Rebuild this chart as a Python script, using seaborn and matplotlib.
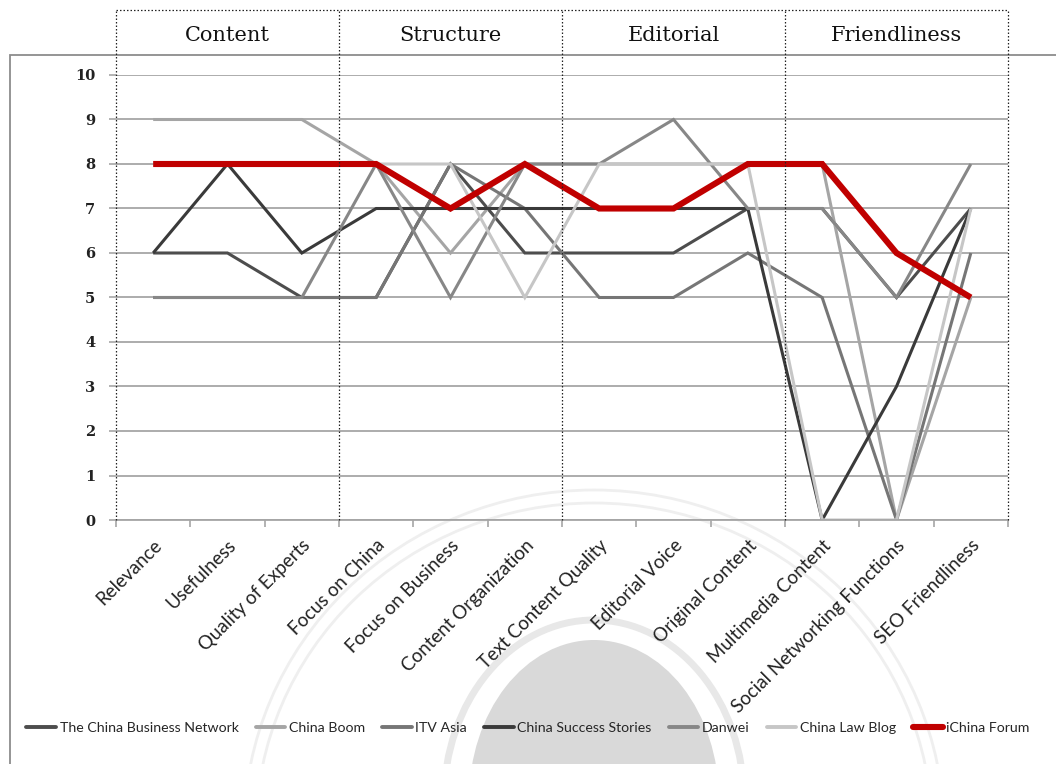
import numpy as np
import pandas as pd
import matplotlib
matplotlib.use("Agg")
import matplotlib.pyplot as plt
import seaborn as sns
from matplotlib.lines import Line2D
from matplotlib.patches import Rectangle, Ellipse
import matplotlib.transforms as mtransforms

# ---------------- data ----------------
categories = ["Relevance", "Usefulness", "Quality of Experts", "Focus on China",
              "Focus on Business", "Content Organization", "Text Content Quality",
              "Editorial Voice", "Original Content", "Multimedia Content",
              "Social Networking Functions", "SEO Friendliness"]
groups = ["Content", "Structure", "Editorial", "Friendliness"]
series_names = ["The China Business Network", "China Boom", "ITV Asia",
                "China Success Stories", "Danwei", "China Law Blog", "iChina Forum"]

china_business_network = [6, 6, 5, 5, 8, 6, 6, 6, 7, 7, 5, 7]
china_boom             = [9, 9, 9, 8, 6, 8, 8, 8, 8, 8, 0, 5]
itv_asia               = [5, 5, 5, 5, 8, 7, 5, 5, 6, 5, 0, 6]
china_success_stories  = [6, 8, 6, 7, 7, 7, 7, 7, 7, 0, 3, 7]
danwei                 = [5, 5, 5, 8, 5, 8, 8, 9, 7, 7, 5, 8]
china_law_blog         = [8, 8, 8, 8, 8, 5, 8, 8, 8, 0, 0, 7]
ichina_forum           = [8, 8, 8, 8, 7, 8, 7, 7, 8, 8, 6, 5]

values = [china_business_network, china_boom, itv_asia, china_success_stories,
          danwei, china_law_blog, ichina_forum]
colors = ["#4d4d4d", "#a5a5a5", "#767676", "#3a3a3a", "#878787", "#c6c6c6", "#c00000"]

rows = []
for name, vals in zip(series_names, values):
    for i, v in enumerate(vals):
        rows.append({"site": name, "idx": i, "score": v})
df = pd.DataFrame(rows)

# ---------------- figure ----------------
sns.set_theme(style="white")
plt.rcParams["font.family"] = ["Lato", "DejaVu Sans"]

W, H = 1056, 764
fig = plt.figure(figsize=(W / 100, H / 100), dpi=100)

# faint background seal (watermark) in pixel coordinates
bg = fig.add_axes([0, 0, 1, 1], zorder=-5)
bg.set_xlim(0, W)
bg.set_ylim(H, 0)
bg.axis("off")
bg.add_patch(Ellipse((594, 800), 250, 320, fc="#d9d9d9", ec="none"))
bg.add_patch(Ellipse((594, 800), 300, 360, fc="none", ec="#e8e8e8", lw=5))
bg.add_patch(Ellipse((594, 830), 700, 680, fc="none", ec="#efefef", lw=2))
bg.add_patch(Ellipse((594, 830), 676, 654, fc="none", ec="#efefef", lw=2))

ax = fig.add_axes([116 / W, (H - 520) / H, 892 / W, 445 / H])
ax.patch.set_alpha(0)

# outer chart-area border
fig.add_artist(Rectangle((10 / W, -0.1), 1.2, (H - 55) / H + 0.1,
                         transform=fig.transFigure, fill=False,
                         ec="#8c8c8c", lw=1.3, zorder=0))

sns.lineplot(data=df, x="idx", y="score", hue="site", hue_order=series_names,
             palette=dict(zip(series_names, colors)), sort=False,
             legend=False, ax=ax)
for ln, name in zip(ax.lines, series_names):
    ln.set_linewidth(4.4 if name == "iChina Forum" else 2.2)
    ln.set_solid_joinstyle("miter")
    ln.set_solid_capstyle("butt")

ax.set_xlim(-0.5, 11.5)
ax.set_ylim(0, 10)
ax.set_yticks(range(0, 11))
ax.set_yticklabels([str(i) for i in range(11)], fontweight="bold",
                   fontsize=10.5, family=["DejaVu Serif"])
ax.yaxis.grid(True, color="#a6a6a6", lw=1.3)
ax.set_axisbelow(True)
for s in ["top", "right", "left"]:
    ax.spines[s].set_visible(False)
ax.spines["bottom"].set_color("#a6a6a6")
ax.spines["bottom"].set_linewidth(1.3)

ax.set_xticks(range(len(categories)))
ax.set_xticklabels(categories, rotation=45, ha="right", rotation_mode="anchor",
                   fontsize=13.5)
offset = mtransforms.ScaledTranslation(6 / 100, 0, fig.dpi_scale_trans)
for lab in ax.get_xticklabels():
    lab.set_transform(lab.get_transform() + offset)
ax.set_xticks(np.arange(-0.5, 12, 1), minor=True)
ax.tick_params(axis="x", which="major", length=0, pad=12, colors="#222222")
ax.tick_params(axis="x", which="minor", length=5, width=1.2, color="#a6a6a6",
               direction="out", bottom=True)
ax.tick_params(axis="y", length=5, width=1.2, color="#a6a6a6", left=True,
               pad=10, labelcolor="#222222")
ax.set_xlabel("")
ax.set_ylabel("")

# group header boxes (dotted)
top_val = 10 + (75 - 10) / 44.5
bounds = [-0.5, 2.5, 5.5, 8.5, 11.5]
for b in bounds:
    ax.plot([b, b], [0, top_val], ls=(0, (1.2, 1.6)), color="#222222", lw=0.9,
            clip_on=False, zorder=5)
ax.plot([-0.5, 11.5], [top_val, top_val], ls=(0, (1.2, 1.6)), color="#222222",
        lw=0.9, clip_on=False, zorder=5)
for g, (a, b) in zip(groups, zip(bounds[:-1], bounds[1:])):
    ax.text((a + b) / 2, 10 + (75 - 36) / 44.5, g, ha="center", va="center",
            fontsize=15, family=["DejaVu Serif"], color="#111111")

# legend
handles = [Line2D([0], [0], color=c, lw=(4.4 if n == "iChina Forum" else 2.8))
           for n, c in zip(series_names, colors)]
fig.legend(handles, series_names, loc="center", bbox_to_anchor=(0.5, (H - 728) / H),
           ncol=7, frameon=False, handlelength=2.1, fontsize=10.2,
           columnspacing=1.2, handletextpad=0.25)

fig.savefig("out.png", dpi=100)
